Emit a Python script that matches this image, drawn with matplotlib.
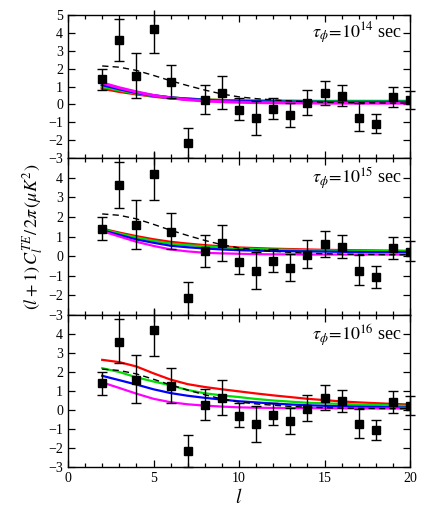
import numpy as np
import matplotlib
matplotlib.use("Agg")
import matplotlib.pyplot as plt
from matplotlib.ticker import MultipleLocator

plt.rcParams.update({
    "font.family": ["Liberation Serif", "DejaVu Serif"],
    "mathtext.fontset": "stix",
    "font.size": 10,
    "xtick.direction": "in",
    "ytick.direction": "in",
    "xtick.top": True,
    "ytick.right": True,
})

# ---- observed TE points (WMAP-like) ----
l_obs = [2, 3, 4, 5, 6, 7, 8, 9, 10, 11, 12, 13, 14, 15, 16, 17, 18, 19, 20]
te_obs = [1.4, 3.6, 1.6, 4.2, 1.25, -2.15, 0.25, 0.65, -0.3, -0.75, -0.25,
          -0.6, 0.05, 0.62, 0.48, -0.75, -1.07, 0.4, 0.22]
te_lo = [0.8, 2.45, 0.35, 2.85, 0.35, -3.0, -0.55, -0.25, -0.9, -1.7, -0.8,
         -1.25, -0.6, -0.02, -0.08, -1.47, -1.6, -0.17, -0.25]
te_hi = [2.0, 4.8, 2.88, 5.3, 2.2, -1.3, 1.08, 1.6, 0.35, 0.2, 0.35,
         0.1, 0.8, 1.3, 1.07, 0.05, -0.52, 1.0, 0.75]

# ---- model curves ----
l_mod = list(range(2, 21))
dashed = [2.15, 2.08, 1.9, 1.62, 1.32, 1.05, 0.8, 0.58, 0.42, 0.32, 0.25,
          0.19, 0.15, 0.12, 0.1, 0.09, 0.08, 0.07, 0.07]

# tau = 1e14
p14_red = [0.9, 0.72, 0.58, 0.45, 0.36, 0.3, 0.25, 0.22, 0.2, 0.19, 0.18,
           0.18, 0.17, 0.17, 0.17, 0.17, 0.17, 0.17, 0.17]
p14_green = [1.0, 0.8, 0.62, 0.47, 0.37, 0.3, 0.25, 0.22, 0.2, 0.18, 0.17,
             0.17, 0.16, 0.16, 0.16, 0.16, 0.16, 0.16, 0.16]
p14_blue = [1.1, 0.87, 0.66, 0.49, 0.37, 0.29, 0.23, 0.19, 0.17, 0.15, 0.14,
            0.13, 0.13, 0.12, 0.12, 0.12, 0.12, 0.12, 0.12]
p14_mag = [1.2, 0.93, 0.7, 0.5, 0.36, 0.26, 0.19, 0.15, 0.12, 0.1, 0.09,
           0.08, 0.08, 0.07, 0.07, 0.07, 0.07, 0.07, 0.07]

# tau = 1e15
p15_red = [1.4, 1.2, 1.02, 0.86, 0.73, 0.64, 0.56, 0.5, 0.44, 0.41, 0.38,
           0.36, 0.34, 0.32, 0.31, 0.3, 0.29, 0.28, 0.27]
p15_green = [1.37, 1.15, 0.95, 0.78, 0.64, 0.56, 0.5, 0.44, 0.39, 0.36, 0.34,
             0.32, 0.3, 0.29, 0.28, 0.27, 0.26, 0.25, 0.25]
p15_blue = [1.32, 1.08, 0.85, 0.68, 0.53, 0.45, 0.39, 0.34, 0.3, 0.28, 0.26,
            0.25, 0.24, 0.23, 0.22, 0.21, 0.2, 0.2, 0.19]
p15_mag = [1.27, 1.0, 0.73, 0.52, 0.34, 0.24, 0.17, 0.14, 0.12, 0.1, 0.09,
           0.09, 0.08, 0.08, 0.08, 0.08, 0.08, 0.08, 0.08]

# tau = 1e16
p16_red = [2.64, 2.52, 2.29, 1.93, 1.6, 1.36, 1.21, 1.09, 0.98, 0.87, 0.77,
           0.68, 0.59, 0.52, 0.45, 0.4, 0.36, 0.32, 0.29]
p16_green = [2.2, 2.0, 1.72, 1.5, 1.3, 1.05, 0.88, 0.77, 0.68, 0.58, 0.5,
             0.44, 0.38, 0.35, 0.32, 0.29, 0.27, 0.24, 0.21]
p16_blue = [1.8, 1.57, 1.34, 1.09, 0.89, 0.75, 0.64, 0.55, 0.46, 0.4, 0.34,
            0.29, 0.25, 0.22, 0.2, 0.18, 0.16, 0.14, 0.13]
p16_mag = [1.45, 1.16, 0.86, 0.59, 0.41, 0.3, 0.23, 0.18, 0.14, 0.12, 0.11,
           0.1, 0.1, 0.09, 0.09, 0.08, 0.08, 0.08, 0.08]

panels = [
    ("14", [p14_red, p14_green, p14_blue, p14_mag], 2.2),
    ("15", [p15_red, p15_green, p15_blue, p15_mag], 1.6),
    ("16", [p16_red, p16_green, p16_blue, p16_mag], 1.6),
]
colors = ["#ff0000", "#00dd00", "#0000ff", "#ff00ff"]

W, H = 436, 509
fig = plt.figure(figsize=(W / 100, H / 100), dpi=100, facecolor="white")

# pixel bounds of each panel (top, bottom)
x0, x1 = 68, 410
rows = [(15, 158), (158, 315), (315, 467)]

yerr = [np.array(te_obs) - np.array(te_lo), np.array(te_hi) - np.array(te_obs)]

axes = []
for i, ((tau, curves, lw), (ytop, ybot)) in enumerate(zip(panels, rows)):
    ax = fig.add_axes([x0 / W, 1 - ybot / H, (x1 - x0) / W, (ybot - ytop) / H])
    axes.append(ax)
    for c, col in zip(curves, colors):
        ax.plot(l_mod, c, color=col, lw=lw, zorder=2)
    ax.plot(l_mod, dashed, color="black", lw=1.0, ls=(0, (4.5, 3)), zorder=3)
    eb = ax.errorbar(l_obs, te_obs, yerr=yerr, fmt="s", color="black",
                     ms=6, elinewidth=1.0, capsize=3.5, capthick=1.0, zorder=4)
    caps, bars = eb.lines[1], eb.lines[2]
    for art in list(caps) + list(bars):
        art.set_clip_on(False)
    # bars running past the top of the frame show no cap
    top_cap = caps[1]
    cx, cy = top_cap.get_data()
    cy = np.where(np.asarray(cy) > 5, np.nan, cy)
    top_cap.set_data(cx, cy)

    ax.set_xlim(0, 20)
    ax.set_ylim(-3, 5)
    ax.xaxis.set_major_locator(MultipleLocator(5))
    ax.xaxis.set_minor_locator(MultipleLocator(1))
    ax.yaxis.set_major_locator(MultipleLocator(1))
    ax.tick_params(which="major", length=5, width=0.9, labelsize=10)
    ax.tick_params(which="minor", length=3, width=0.9)
    for sp in ax.spines.values():
        sp.set_linewidth(1.0)
    if i > 0:
        ax.set_yticks(range(-3, 5))
    if i < 2:
        ax.tick_params(labelbottom=False)

    ax.text(0.975, 0.87, r"$\tau_{\phi}\!=\!10^{%s}$ sec" % tau,
            transform=ax.transAxes, ha="right", va="center", fontsize=13)

axes[1].set_ylabel(r"$(l+1)\,C_l^{TE}/\,2\pi\,(\mu K^2)$", fontsize=13,
                   labelpad=2)
axes[2].set_xlabel(r"$l$", fontsize=14, labelpad=2)

fig.savefig("out.png", dpi=100)
